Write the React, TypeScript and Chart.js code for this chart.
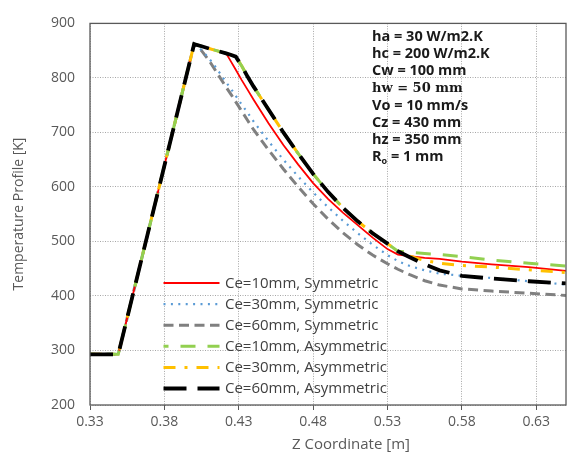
import React, { useEffect, useRef } from "react";
import { Chart, registerables } from "chart.js";

Chart.register(...registerables);

// Z coordinate [m] sample positions (shared by every series)
const zPositions = [
  0.33, 0.349, 0.4, 0.405, 0.41, 0.415, 0.4215, 0.425, 0.428, 0.432, 0.436, 0.44,
  0.45, 0.46, 0.47, 0.48, 0.49, 0.5, 0.51, 0.52, 0.53, 0.537, 0.545, 0.555, 0.565,
  0.58, 0.6, 0.625, 0.65,
];

// Temperature profile [K]
const ce10Sym = [
  293, 293, 862, 858, 854, 850, 845, 829, 815, 796, 778, 760, 717, 677, 641, 607,
  578, 553, 530, 507, 486, 476, 473, 470, 468, 463, 458, 453, 446,
];
const ce30Sym = [
  293, 293, 862, 851, 836, 818, 792, 779, 767, 751, 736, 720, 684, 650, 619, 590,
  563, 538, 515, 494, 475, 464, 455, 447, 441, 437, 433, 427, 421,
];
const ce60Sym = [
  293, 293, 862, 850, 832, 811, 783, 769, 756, 739, 722, 705, 668, 633, 600, 569,
  541, 516, 494, 475, 459, 449, 439, 428, 420, 413, 409, 405, 401,
];
const ce10Asym = [
  293, 293, 862, 858, 854, 850, 845, 842, 839, 822, 802, 784, 742, 700, 661, 624,
  591, 562, 537, 515, 496, 482, 480, 478, 476, 472, 466, 460, 455,
];
const ce30Asym = [
  293, 293, 862, 858, 854, 850, 845, 842, 839, 822, 802, 784, 742, 700, 661, 624,
  591, 562, 537, 515, 496, 482, 473, 465, 460, 456, 453, 448, 443,
];
const ce60Asym = [
  293, 293, 862, 858, 854, 850, 845, 842, 839, 822, 802, 784, 742, 700, 661, 624,
  591, 562, 537, 515, 496, 482, 471, 458, 447, 437, 432, 427, 423,
];

const seriesLabels = [
  "Ce=10mm, Symmetric",
  "Ce=30mm, Symmetric",
  "Ce=60mm, Symmetric",
  "Ce=10mm, Asymmetric",
  "Ce=30mm, Asymmetric",
  "Ce=60mm, Asymmetric",
];
const seriesValues = [ce10Sym, ce30Sym, ce60Sym, ce10Asym, ce30Asym, ce60Asym];

const xTickValues = [0.33, 0.38, 0.43, 0.48, 0.53, 0.58, 0.63];
const yTickValues = [200, 300, 400, 500, 600, 700, 800, 900];

const parameterLines = [
  "ha = 30 W/m2.K",
  "hc = 200 W/m2.K",
  "Cw = 100 mm",
  "hw = 50 mm",
  "Vo = 10 mm/s",
  "Cz = 430 mm",
  "hz = 350 mm",
  "R|o| = 1 mm",
];

const styles = [
  { color: "#ff0000", width: 1.8, dash: [], offset: 0, order: 3 },
  { color: "#5b9bd5", width: 2.2, dash: [2, 5.4], offset: 0, order: 4 },
  { color: "#808080", width: 3, dash: [10, 5.5], offset: 0, order: 5 },
  { color: "#92d050", width: 3, dash: [15, 12], offset: 10, order: 1 },
  { color: "#ffc000", width: 3, dash: [12, 9, 3, 9], offset: 0, order: 2 },
  { color: "#000000", width: 3.8, dash: [23, 11], offset: 0, order: 0 },
];

const overlay = {
  id: "overlay",
  afterDraw(chart: any) {
    const ctx = chart.ctx as CanvasRenderingContext2D;
    const a = chart.chartArea;
    ctx.save();
    // plot frame
    ctx.setLineDash([]);
    ctx.strokeStyle = "#595959";
    ctx.lineWidth = 1.3;
    ctx.strokeRect(a.left, a.top, a.right - a.left, a.bottom - a.top);

    // axis titles
    ctx.fillStyle = "#595959";
    ctx.textAlign = "center";
    ctx.textBaseline = "middle";
    ctx.font = "15px 'Open Sans'";
    ctx.fillText("Z Coordinate [m]", 351, 445);
    ctx.save();
    ctx.translate(19, 214);
    ctx.rotate(-Math.PI / 2);
    ctx.font = "14px 'Open Sans'";
    ctx.fillText("Temperature Profile [K]", 0, 0);
    ctx.restore();

    // legend
    ctx.textAlign = "left";
    ctx.font = "15px 'Open Sans'";
    chart.data.datasets.forEach((ds: any, i: number) => {
      const y = 283 + i * 21.1;
      ctx.save();
      ctx.strokeStyle = ds.borderColor;
      ctx.lineWidth = ds.borderWidth;
      ctx.setLineDash(ds.borderDash || []);
      ctx.lineDashOffset = ds.borderDashOffset || 0;
      ctx.beginPath();
      ctx.moveTo(163.5, y);
      ctx.lineTo(219.5, y);
      ctx.stroke();
      ctx.restore();
      ctx.fillStyle = "#404040";
      ctx.fillText(ds.label, 225, y + 0.5);
    });

    // parameter annotation
    ctx.fillStyle = "#1a1a1a";
    parameterLines.forEach((line, i) => {
      const y = 37 + i * 17.15;
      const x = 372;
      if (line.startsWith("hw")) {
        ctx.font = "bold 13px 'DejaVu Serif'";
        ctx.fillText(line, x, y);
      } else if (line.includes("|")) {
        const [base, sub, rest] = line.split("|");
        ctx.font = "bold 14.5px 'Open Sans'";
        ctx.fillText(base, x, y);
        let w = ctx.measureText(base).width;
        ctx.font = "bold 9px 'Open Sans'";
        ctx.fillText(sub, x + w, y + 4);
        w += ctx.measureText(sub).width;
        ctx.font = "bold 14.5px 'Open Sans'";
        ctx.fillText(rest, x + w, y);
      } else {
        ctx.font = "bold 14.5px 'Open Sans'";
        ctx.fillText(line, x, y);
      }
    });
    ctx.restore();
  },
};

export default function App() {
  const canvasRef = useRef<HTMLCanvasElement | null>(null);

  useEffect(() => {
    const canvas = canvasRef.current;
    if (!canvas) return;
    const tickFont = { family: "'Open Sans'", size: 14 };
    const chart = new Chart(canvas, {
      type: "line",
      data: {
        datasets: seriesLabels.map((label, i) => ({
          label,
          data: zPositions.map((z, j) => ({ x: z, y: seriesValues[i][j] })),
          borderColor: styles[i].color,
          backgroundColor: styles[i].color,
          borderWidth: styles[i].width,
          borderDash: styles[i].dash,
          borderDashOffset: styles[i].offset,
          order: styles[i].order,
          pointRadius: 0,
          tension: 0,
          fill: false,
        })),
      },
      options: {
        responsive: false,
        animation: false,
        events: [],
        layout: { padding: { left: 0, right: 2, top: 16, bottom: 0 } },
        plugins: {
          legend: { display: false },
          tooltip: { enabled: false },
        },
        scales: {
          x: {
            type: "linear",
            min: 0.33,
            max: 0.65,
            afterBuildTicks: (scale: any) => {
              scale.ticks = xTickValues.map((v) => ({ value: v }));
            },
            afterFit: (scale: any) => {
              scale.height = 47;
            },
            ticks: {
              font: tickFont,
              color: "#595959",
              padding: 4,
              maxRotation: 0,
              autoSkip: false,
              callback: (v: any) => Number(v).toFixed(2),
            },
            grid: {
              color: "#a6a6a6",
              tickColor: "#595959",
              tickLength: 5,
              tickWidth: 1,
              tickBorderDash: [],
            },
            border: { display: false, dash: [1, 1.5] },
          },
          y: {
            type: "linear",
            min: 200,
            max: 900,
            afterBuildTicks: (scale: any) => {
              scale.ticks = yTickValues.map((v) => ({ value: v }));
            },
            afterFit: (scale: any) => {
              scale.width = 90;
            },
            ticks: {
              font: tickFont,
              color: "#595959",
              padding: 15,
              callback: (v: any) => String(v),
            },
            grid: { color: "#a6a6a6", drawTicks: false },
            border: { display: false, dash: [1, 1.5] },
          },
        },
      } as any,
      plugins: [overlay],
    });
    return () => chart.destroy();
  }, []);

  return (
    <div style={{ position: "absolute", left: 0, top: 0, width: 568, height: 452, background: "#fff" }}>
      <canvas ref={canvasRef} width={568} height={452} style={{ display: "block" }} />
    </div>
  );
}
